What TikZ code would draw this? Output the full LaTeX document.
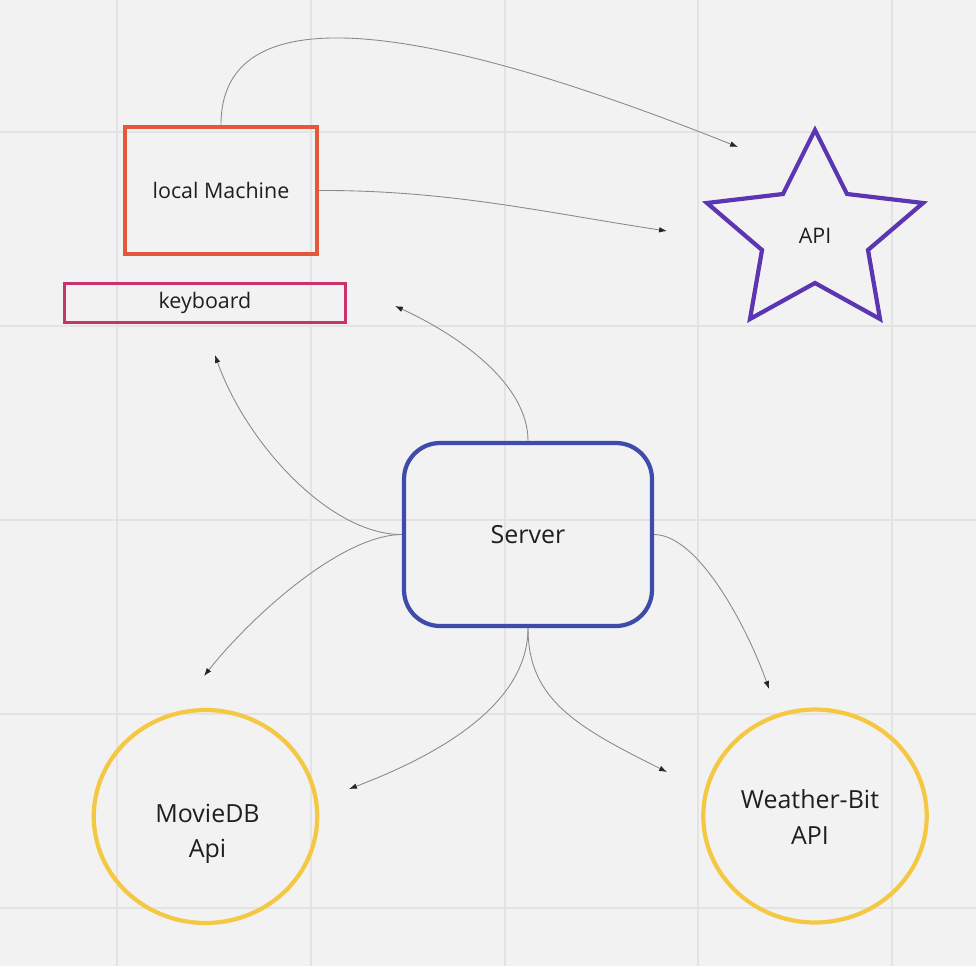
\documentclass[tikz,border=0pt]{standalone}
\usepackage{fontspec}
\setmainfont{Open Sans}
\usetikzlibrary{arrows.meta,shapes.geometric}

\definecolor{bggray}{HTML}{F2F2F2}
\definecolor{gridgray}{HTML}{E3E3E3}
\definecolor{conngray}{HTML}{8A8A8A}
\definecolor{textdark}{HTML}{1F1F1F}
\definecolor{lmred}{HTML}{E3573A}
\definecolor{kbpink}{HTML}{C9336B}
\definecolor{starpurple}{HTML}{5B36B0}
\definecolor{serverblue}{HTML}{3F4BAA}
\definecolor{apiyellow}{HTML}{F4C843}

\tikzset{
  gridline/.style={draw=gridgray, line width=1.1pt},
  smalltext/.style={text=textdark, font=\fontsize{12.2}{14}\selectfont},
  bigtext/.style={text=textdark, font=\fontsize{14.2}{20}\selectfont, align=center},
  lmbox/.style={smalltext, draw=lmred, line width=2.4pt, minimum width=3.84cm, minimum height=2.54cm},
  kbbox/.style={smalltext, draw=kbpink, line width=1.8pt, minimum width=5.62cm, minimum height=0.78cm},
  serverbox/.style={bigtext, draw=serverblue, line width=2.4pt, rounded corners=0.72cm,
                    minimum width=4.96cm, minimum height=3.66cm},
  apicircle/.style={ellipse, draw=apiyellow, line width=2.4pt, minimum width=4.47cm, minimum height=4.26cm},
  conn/.style={draw=conngray, line width=0.5pt, -{Latex[length=4.5pt,width=3.2pt,color=black!85]}}
}

\begin{document}
\begin{tikzpicture}[x=0.02cm, y=-0.02cm]
  \useasboundingbox (0,0) rectangle (976,966);
  \fill[bggray] (0,0) rectangle (976,966);

  % grid
  \foreach \gx in {117,311,505,698,892}
    \draw[gridline] (\gx,0) -- (\gx,966);
  \foreach \gy in {132,326,520,714,908}
    \draw[gridline] (0,\gy) -- (976,\gy);

  % boxes
  \node[lmbox] (lm) at (221,190.5) {local Machine};
  \node[kbbox] (kb) at (205,303) {keyboard};
  \node[serverbox] (server) at (528,534.5) {Server};

  % star
  \draw[starpurple, line width=2.4pt] (815,130) -- (847,194) -- (923,203) -- (868,250)
        -- (880,319) -- (815,283) -- (750,319) -- (762,250) -- (707,203) -- (783,194) -- cycle;
  \node[smalltext] (api) at (815,236) {API};

  % external apis
  \node[apicircle] (moviedb) at (205.5,816.5) {};
  \node[bigtext] (moviedbtext) at (207.5,834) {MovieDB\\Api};
  \node[apicircle] (weather) at (815,816) {};
  \node[bigtext] (weathertext) at (810,817) {Weather-Bit\\API};

  % free ends of the connectors
  \coordinate (e1) at (738,147);
  \coordinate (e2) at (667,231);
  \coordinate (e3) at (395,306);
  \coordinate (e4) at (215,355);
  \coordinate (e5) at (204,676);
  \coordinate (e6) at (769,689);
  \coordinate (e7) at (349,789);
  \coordinate (e8) at (667,772);

  % connectors
  \draw[conn] (lm.north) .. controls (221,-25) and (480,44) .. (e1);
  \draw[conn] (lm.east) .. controls (450,190) and (547,213) .. (e2);
  \draw[conn] (server.north) .. controls (528,380) and (450,331) .. (e3);
  \draw[conn] (server.west) .. controls (330,535) and (246,443) .. (e4);
  \draw[conn] (server.west) .. controls (340,535) and (249,619) .. (e5);
  \draw[conn] (server.east) .. controls (700,535) and (749,632) .. (e6);
  \draw[conn] (server.south) .. controls (528,700) and (449,751) .. (e7);
  \draw[conn] (server.south) .. controls (528,700) and (577,727) .. (e8);
\end{tikzpicture}
\end{document}
